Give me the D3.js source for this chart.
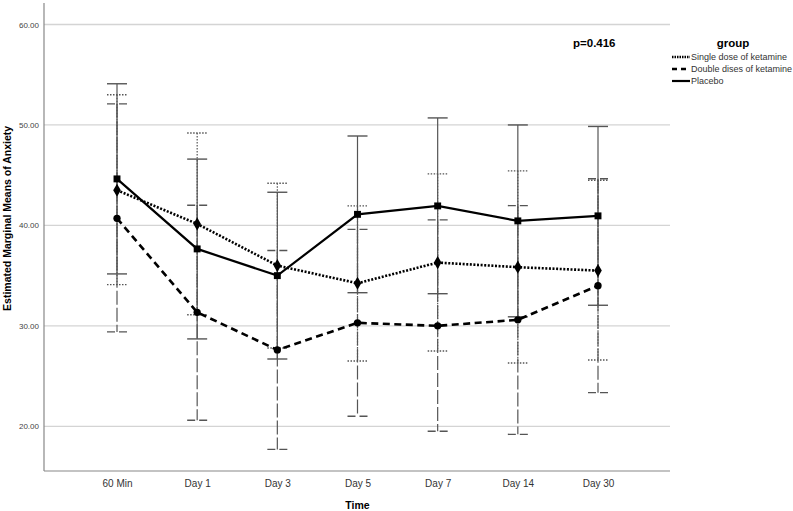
<!DOCTYPE html>
<html><head><meta charset="utf-8">
<script src="https://cdn.jsdelivr.net/npm/d3@7/dist/d3.min.js"></script>
<style>body{margin:0;background:#fff}svg{display:block}text{font-family:"Liberation Sans",Arial,sans-serif}</style>
</head><body>
<svg id="c" width="793" height="511"></svg>
<script>
const categories = ["60 Min","Day 1","Day 3","Day 5","Day 7","Day 14","Day 30"];
const groups = ["Single dose of ketamine","Double dises of ketamine","Placebo"];
const singleMean  = [43.5, 40.15, 36.0, 34.24, 36.3, 35.84, 35.5];
const singleLow   = [34.1, 31.1, 27.8, 26.5, 27.5, 26.3, 26.6];
const singleHigh  = [53.0, 49.2, 44.2, 41.94, 45.13, 45.43, 44.5];
const doubleMean  = [40.7, 31.35, 27.6, 30.3, 30.0, 30.6, 34.0];
const doubleLow   = [29.4, 20.6, 17.7, 21.0, 19.5, 19.2, 23.35];
const doubleHigh  = [52.1, 42.0, 37.5, 39.6, 40.55, 41.97, 44.65];
const placeboMean = [44.63, 37.66, 35.0, 41.1, 41.94, 40.45, 40.95];
const placeboLow  = [35.17, 28.7, 26.7, 33.3, 33.2, 30.9, 32.05];
const placeboHigh = [54.1, 46.6, 43.3, 48.9, 50.7, 50.0, 49.85];
const yTicks = [20, 30, 40, 50, 60];
const pText = "p=0.416";

const series = [
  {name: groups[0], mean: singleMean, lo: singleLow, hi: singleHigh, dash: "2,1.6", bar: "1.5,1.5", cap: "1.5,1.5", sym: d3.symbolDiamond, size: 50, lw: 2.6},
  {name: groups[1], mean: doubleMean, lo: doubleLow, hi: doubleHigh, dash: "7,4.5", bar: "14,3", cap: "8,4", sym: d3.symbolCircle, size: 42, lw: 2.6},
  {name: groups[2], mean: placeboMean, lo: placeboLow, hi: placeboHigh, dash: null, bar: null, cap: null, sym: d3.symbolSquare, size: 48, lw: 2.2}
];

const svg = d3.select("#c");
const x = d3.scalePoint().domain(categories).range([117, 598]);
const y = d3.scaleLinear().domain([20, 60]).range([426.3, 24.5]);
const x0 = 44, x1 = 670, yBottom = y(15.55), yTop = 3;

svg.append("g").selectAll("line").data(yTicks).join("line")
  .attr("x1", x0).attr("x2", x1).attr("y1", d => y(d)).attr("y2", d => y(d))
  .attr("stroke", "#d4d4d4").attr("stroke-width", 1.3);

const ya = svg.append("g").attr("transform", `translate(${x0},0)`)
  .call(d3.axisLeft(y).tickValues(yTicks).tickSize(0).tickPadding(5).tickFormat(d3.format(".2f")));
ya.select(".domain").remove();
ya.selectAll("text").attr("font-size", 8).attr("fill", "#444").attr("font-family", "Liberation Sans, Arial, sans-serif");
svg.append("line").attr("x1", x0).attr("x2", x0).attr("y1", yTop).attr("y2", yBottom).attr("stroke", "#888").attr("stroke-width", 1.2);

const xa = svg.append("g").attr("transform", `translate(0,${yBottom})`)
  .call(d3.axisBottom(x).tickSize(0).tickPadding(9));
xa.select(".domain").remove();
xa.selectAll("text").attr("font-size", 10).attr("fill", "#333").attr("font-family", "Liberation Sans, Arial, sans-serif");
svg.append("line").attr("x1", x0).attr("x2", x1).attr("y1", yBottom).attr("y2", yBottom).attr("stroke", "#888").attr("stroke-width", 1.2);

svg.append("text").attr("x", x(categories[3])).attr("y", 509).attr("text-anchor", "middle")
  .attr("font-size", 10.5).attr("font-weight", "bold").text("Time");
svg.append("text").attr("transform", `translate(11,${y(40.7)}) rotate(-90)`).attr("text-anchor", "middle")
  .attr("font-size", 10.5).attr("font-weight", "bold").text("Estimated Marginal Means of Anxiety");

series.forEach(s => {
  const g = svg.append("g");
  g.selectAll("line.v").data(categories).join("line").attr("class", "v")
    .attr("x1", d => x(d)).attr("x2", d => x(d))
    .attr("y1", (d, i) => y(s.hi[i])).attr("y2", (d, i) => y(s.lo[i]))
    .attr("stroke", "#555").attr("stroke-width", 1.2).attr("stroke-dasharray", s.bar);
  ["hi", "lo"].forEach(k => {
    g.selectAll("line.c" + k).data(categories).join("line").attr("class", "c" + k)
      .attr("x1", d => x(d) - 10).attr("x2", d => x(d) + 10)
      .attr("y1", (d, i) => y(s[k][i])).attr("y2", (d, i) => y(s[k][i]))
      .attr("stroke", "#555").attr("stroke-width", 1.4).attr("stroke-dasharray", s.cap);
  });
});

series.forEach(s => {
  const line = d3.line().x((d, i) => x(categories[i])).y(d => y(d));
  svg.append("path").datum(s.mean).attr("d", line).attr("fill", "none")
    .attr("stroke", "#000").attr("stroke-width", s.lw).attr("stroke-dasharray", s.dash);
  svg.append("g").selectAll("path").data(s.mean).join("path")
    .attr("transform", (d, i) => `translate(${x(categories[i])},${y(d)})`)
    .attr("d", d3.symbol().type(s.sym).size(s.size)).attr("fill", "#000");
});

svg.append("text").attr("x", 573).attr("y", 47).attr("font-size", 11.5).attr("font-weight", "bold").text(pText);
svg.append("text").attr("x", 733).attr("y", 47).attr("text-anchor", "middle").attr("font-size", 11.5).attr("font-weight", "bold").text("group");
const lg = svg.append("g");
series.forEach((s, i) => {
  const yy = 57 + i * 12;
  lg.append("line").attr("x1", 672).attr("x2", 690).attr("y1", yy).attr("y2", yy)
    .attr("stroke", "#000").attr("stroke-width", s.dash ? 2.6 : 2.2).attr("stroke-dasharray", s.dash ? (i === 0 ? "1.5,1" : "5,4") : null);
  lg.append("text").attr("x", 691).attr("y", yy + 3.3).attr("font-size", 9).attr("fill", "#333").text(s.name);
});
</script>
</body></html>
